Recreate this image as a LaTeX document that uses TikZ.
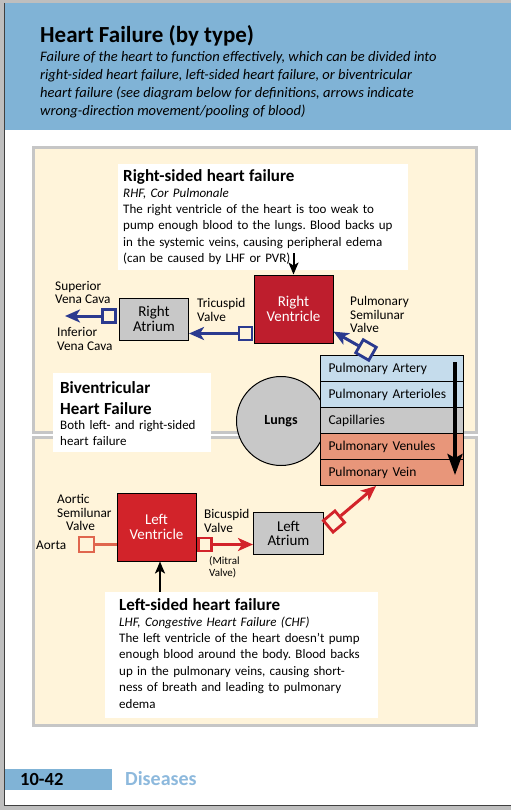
\documentclass[tikz,border=0pt]{standalone}
\usepackage{fontspec}
\setmainfont{Carlito}
\usetikzlibrary{arrows.meta,calc,positioning}
\definecolor{headerblue}{HTML}{80B3D6}
\definecolor{chaptersky}{HTML}{8DB9DD}
\definecolor{panelcream}{HTML}{FFF4DA}
\definecolor{panelgray}{HTML}{C6C6C6}
\definecolor{framegray}{HTML}{BEBEBE}
\definecolor{rvred}{HTML}{BE1E2D}
\definecolor{lvred}{HTML}{D2232A}
\definecolor{aortared}{HTML}{E0664E}
\definecolor{valveblue}{HTML}{2B3A8F}
\definecolor{chambergray}{HTML}{C8C8C8}
\definecolor{arteryblue}{HTML}{C5DCEC}
\definecolor{veinsalmon}{HTML}{E8967A}
\frenchspacing
\tikzset{
  panel/.style={draw=panelgray,line width=3pt,fill=panelcream},
  infobox/.style={fill=white,inner sep=0pt,anchor=north west},
  infotext/.style={inner sep=0pt,anchor=north west,align=left,font=\fontsize{13}{16.4}\selectfont},
  chamber/.style={draw=black,line width=1pt,align=center,font=\fontsize{15}{14.5}\selectfont},
  valve/.style={draw,line width=2.8pt,fill=panelcream,minimum size=13pt,inner sep=0pt},
  partname/.style={anchor=north west,inner sep=0pt,align=left,font=\fontsize{13.3}{13.5}\selectfont},
  stackrow/.style={draw=black,line width=1pt,anchor=north west,minimum height=26pt,text width=127pt,inner xsep=8pt,align=left,font=\fontsize{13.5}{14}\selectfont},
  flowblue/.style={-{Stealth[length=15pt,width=13pt,inset=4pt]},line width=3pt,valveblue},
  flowred/.style={-{Stealth[length=15pt,width=13pt,inset=4pt]},line width=3pt,lvred},
  bigflow/.style={-{Stealth[length=21pt,width=15pt,inset=4pt]},line width=3.5pt,black},
  pointer/.style={-{Stealth[length=12pt,width=10pt,inset=3pt]},line width=2pt,black}
}
\begin{document}
\begin{tikzpicture}[x=1pt,y=-1pt]
\useasboundingbox (0,0) rectangle (511,810);
% page frame and header
\fill[framegray] (0,0) rectangle (511,810);
\fill[white] (5,3) rectangle (511,805);
\draw[black!75,line width=1pt] (4.5,3) -- (4.5,805.5) -- (511,805.5);
\fill[headerblue] (5,3) rectangle (511,130);
\node[anchor=base west,inner sep=0pt,font=\fontsize{23}{26}\selectfont\bfseries] (title) at (40,43) {Heart Failure (by type)};
\node[anchor=north west,inner sep=0pt,align=left,font=\fontsize{14.5}{18}\selectfont\itshape] (intro) at (40,51) {Failure of the heart to function effectively, which can be divided into\\right-sided heart failure, left-sided heart failure, or biventricular\\heart failure (see diagram below for definitions, arrows indicate\\wrong-direction movement/pooling of blood)};
% panels
\draw[panel] (33,147.5) rectangle (476.5,432.5);
\draw[panel] (33,437.5) rectangle (476.5,725.5);
% text boxes
\node[infobox,minimum width=290pt,minimum height=106pt] (rhf) at (118,164) {};
\node[infotext,text width=282pt,below right=5pt and 5pt of rhf.north west] (rhftext) {{\fontsize{17}{20}\selectfont\bfseries Right-sided heart failure\par}{\fontsize{13}{16}\selectfont\itshape RHF, Cor Pulmonale\par}The right ventricle of the heart is too weak to\\pump enough blood to the lungs. Blood backs up\\in the systemic veins, causing peripheral edema\\(can be caused by LHF or PVR)};
\node[infobox,minimum width=158pt,minimum height=79pt] (biv) at (53,373) {};
\node[infotext,text width=150pt,below right=8pt and 7pt of biv.north west] (bivtext) {{\fontsize{17}{21}\selectfont\bfseries Biventricular\\Heart Failure\par}{\fontsize{13}{15.7}\selectfont Both left- and right-sided\\heart failure\par}};
\node[infobox,minimum width=273pt,minimum height=126pt] (lhf) at (105,592) {};
\node[infotext,text width=255pt,below right=6pt and 14pt of lhf.north west] (lhftext) {{\fontsize{17}{20}\selectfont\bfseries Left-sided heart failure\par}{\fontsize{13}{16}\selectfont\itshape LHF, Congestive Heart Failure (CHF)\par}The left ventricle of the heart doesn’t pump\\enough blood around the body. Blood backs\\up in the pulmonary veins, causing short-\\ness of breath and leading to pulmonary\\edema};
% lungs and pulmonary vessels
\node[circle,draw=black,line width=1pt,fill=chambergray,minimum size=89pt,inner sep=0pt,font=\fontsize{14}{14}\selectfont\bfseries] (lungs) at (281,421) {Lungs};
\foreach \rowtext/\rowfill [count=\i] in {Pulmonary Artery/arteryblue,Pulmonary Arterioles/arteryblue,Capillaries/chambergray,Pulmonary Venules/veinsalmon,Pulmonary Vein/veinsalmon}
  \node[stackrow,fill=\rowfill] (row\i) at (320,329+26*\i) {\rowtext};
\draw[bigflow] ($(row1.north east)+(-9,7)$) -- ($(row5.south east)+(-9,-11)$);
% chambers
\node[chamber,fill=rvred,text=white,minimum width=79pt,minimum height=68pt] (rv) at (293.5,309) {Right\\Ventricle};
\node[chamber,fill=chambergray,minimum width=69pt,minimum height=42pt] (ra) at (154,319) {Right\\Atrium};
\node[chamber,fill=lvred,text=white,minimum width=79pt,minimum height=68pt] (lv) at (156.5,527) {Left\\Ventricle};
\node[chamber,fill=chambergray,minimum width=70pt,minimum height=42pt] (la) at (288.5,533.5) {Left\\Atrium};
% valves
\node[valve,draw=valveblue] (svc) at (109,316) {};
\node[valve,draw=valveblue] (tv) at (245.5,333.5) {};
\node[valve,draw=valveblue,minimum size=15pt,rotate=60] (psv) at (366,350) {};
\node[valve,draw=lvred] (bv) at (205,544.5) {};
\node[valve,draw=aortared,minimum size=15pt] (av) at (86.5,544.5) {};
\node[valve,draw=lvred,minimum size=15pt,rotate=40] (pvv) at (334,521.5) {};
% wrong-direction flow
\coordinate (cava) at (65,316);
\draw[flowblue] (svc.west) -- (cava);
\draw[flowblue] (tv.west) -- (tv.west -| ra.east);
\draw[flowblue] (psv) -- (rv);
\draw[flowred] (bv.east) -- (bv.east -| la.west);
\draw[aortared,line width=3pt] (av.east) -- (av.east -| lv.west);
\draw[flowred] (pvv) -- (row5);
\coordinate (rhfend) at (293.5,253);
\draw[pointer] (rhfend) -- (rv.north);
\coordinate (lhfstart) at ($(lhf.north -| lv.south)+(3.5,0)$);
\draw[pointer] (lhfstart) -- (lhfstart |- lv.south);
% labels
\node[partname] (svclabel) at (55,281) {Superior\\Vena Cava};
\node[partname] (ivclabel) at (57,327.5) {Inferior\\Vena Cava};
\node[partname] (tvlabel) at (197,298.5) {Tricuspid\\Valve};
\node[partname] (psvlabel) at (350,296.5) {Pulmonary\\Semilunar\\Valve};
\node[partname] (avlabel) at (57,494.5) {Aortic\\Semilunar\\\hspace*{9pt}Valve};
\node[partname,anchor=base west] (aortalabel) at (36,549) {Aorta};
\node[partname] (bvlabel) at (204,509.5) {Bicuspid\\Valve};
\node[partname,font=\fontsize{11}{12}\selectfont] (mitral) at (209,556) {(Mitral\\Valve)};
% footer
\fill[headerblue] (5,769) rectangle (112,790);
\node[anchor=base west,inner sep=0pt,font=\fontsize{18.5}{20}\selectfont\bfseries] (pagenum) at (20,785) {10-42};
\node[anchor=base west,inner sep=0pt,text=chaptersky,font=\fontsize{20}{22}\selectfont\bfseries] (chapter) at (125,785.5) {Diseases};
\end{tikzpicture}
\end{document}
